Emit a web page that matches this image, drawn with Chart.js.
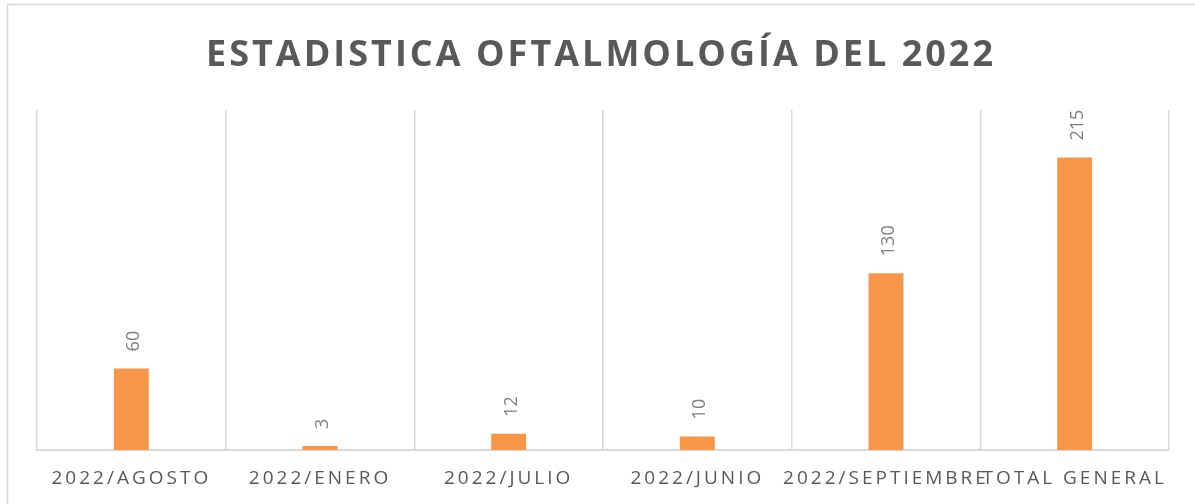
<!DOCTYPE html>
<html>
<head>
<meta charset="utf-8">
<script src="https://cdn.jsdelivr.net/npm/chart.js@4.4.1/dist/chart.umd.min.js"></script>
<style>
  html, body { margin: 0; padding: 0; background: #ffffff; }
  #wrap { position: relative; width: 1195px; height: 504px; }
</style>
</head>
<body>
<div id="wrap"><canvas id="c" width="1195" height="504"></canvas></div>
<script>
const chartTitle = 'ESTADISTICA OFTALMOLOGÍA DEL 2022';
const categories = ['2022/AGOSTO', '2022/ENERO', '2022/JULIO', '2022/JUNIO', '2022/SEPTIEMBRE', 'TOTAL GENERAL'];
const values = [60, 3, 12, 10, 130, 215];
const yMax = 250;

const barColor = '#F79646';
const gridColor = '#d9d9d9';
const textColor = '#595959';
const labelColor = '#7f7f7f';

const spacingPlugin = {
  id: 'spacing',
  beforeLayout(chart) { chart.ctx.letterSpacing = '3px'; },
  beforeDraw(chart) {
    const ctx = chart.ctx;
    ctx.letterSpacing = '3px';
    ctx.save();
    ctx.fillStyle = '#ffffff';
    ctx.fillRect(0, 0, chart.width, chart.height);
    ctx.strokeStyle = gridColor;
    ctx.lineWidth = 1.5;
    ctx.strokeRect(7.5, 4.5, chart.width + 20, chart.height + 20);
    ctx.restore();
  },
  afterDatasetsDraw(chart) {
    const ctx = chart.ctx;
    const meta = chart.getDatasetMeta(0);
    ctx.save();
    ctx.letterSpacing = '0px';
    ctx.font = '18px "Open Sans"';
    ctx.fillStyle = labelColor;
    ctx.textAlign = 'left';
    ctx.textBaseline = 'alphabetic';
    meta.data.forEach((bar, i) => {
      const v = chart.data.datasets[0].data[i];
      ctx.save();
      ctx.translate(bar.x + 8, bar.y - 17);
      ctx.rotate(-Math.PI / 2);
      ctx.fillText(String(v), 0, 0);
      ctx.restore();
    });
    ctx.restore();
  },
  afterDraw(chart) {
    const ctx = chart.ctx;
    ctx.save();
    ctx.letterSpacing = '3px';
    ctx.font = 'bold 36px "Open Sans"';
    ctx.fillStyle = textColor;
    ctx.textAlign = 'center';
    ctx.textBaseline = 'alphabetic';
    ctx.fillText(chartTitle, 601, 65.5);
    ctx.restore();
  }
};

new Chart(document.getElementById('c'), {
  type: 'bar',
  data: {
    labels: categories,
    datasets: [{
      data: values,
      backgroundColor: barColor,
      borderWidth: 0,
      categoryPercentage: 1,
      barPercentage: 0.185
    }]
  },
  options: {
    responsive: false,
    animation: false,
    devicePixelRatio: 1,
    layout: { padding: { left: 37, right: 26, top: 110, bottom: 0 } },
    plugins: { legend: { display: false }, tooltip: { enabled: false }, title: { display: false } },
    scales: {
      y: { display: false, min: 0, max: yMax },
      x: {
        grid: { color: gridColor, lineWidth: 1.5, drawTicks: false, offset: true },
        border: { display: true, color: gridColor, width: 2 },
        ticks: {
          color: textColor,
          font: { family: '"Open Sans"', size: 19 },
          padding: 17,
          autoSkip: false,
          maxRotation: 0,
          minRotation: 0
        },
        afterFit(scale) { scale.height = 54; }
      }
    }
  },
  plugins: [spacingPlugin]
});
</script>
</body>
</html>
